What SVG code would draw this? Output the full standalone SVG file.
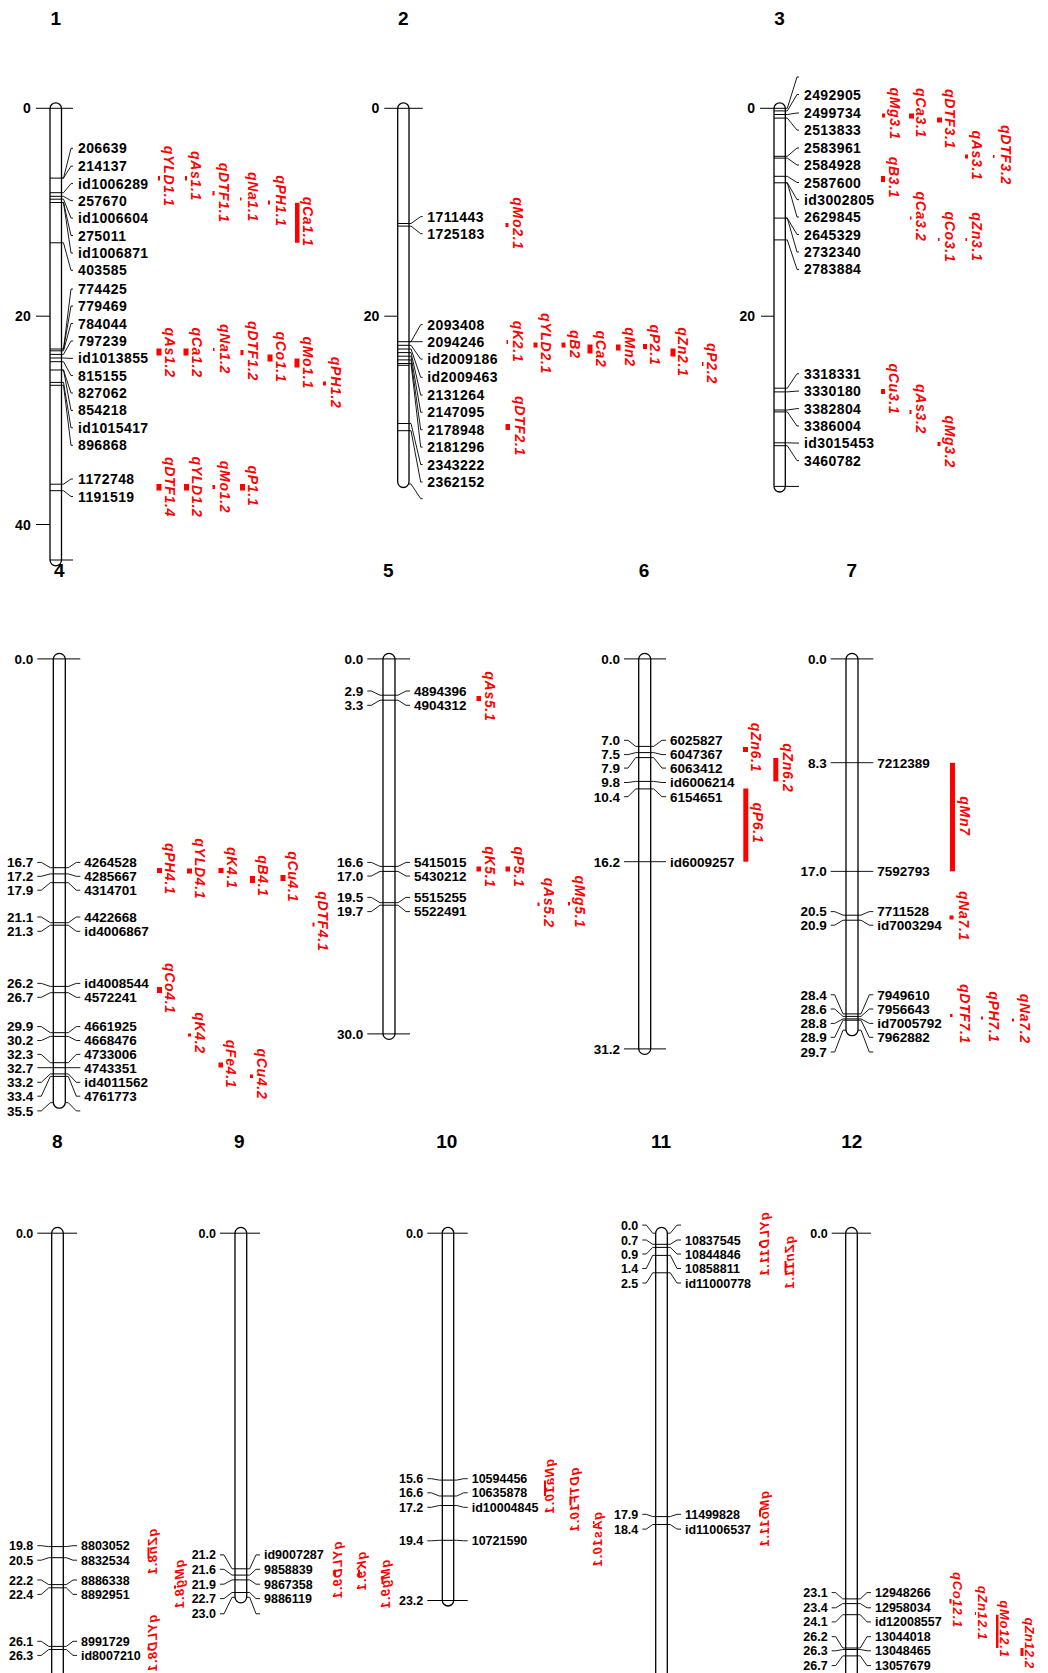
<svg xmlns="http://www.w3.org/2000/svg" width="1048" height="1673" viewBox="0 0 1048 1673">
<style>
.bar{fill:#fff;stroke:#000;stroke-width:1.3}
.tk{fill:none;stroke:#000;stroke-width:1}
.cn{fill:none;stroke:#000;stroke-width:0.9}
text{font-family:"Liberation Sans",Arial,sans-serif;fill:#000}
.t{font-size:19px;font-weight:bold;text-anchor:middle}
.m1{font-size:14px;font-weight:bold;letter-spacing:0.4px}
.a1{font-size:14px;font-weight:bold;text-anchor:end}
.m2{font-size:13.5px;font-weight:bold}
.n2{font-size:13.5px;font-weight:bold;text-anchor:end}
.m3{font-size:12.5px;font-weight:bold}
.n3{font-size:12.5px;font-weight:bold;text-anchor:end}
.q{font-size:14px;font-weight:bold;font-style:italic;fill:#f00;text-anchor:middle;letter-spacing:0.7px}
.q3{font-size:13px;font-weight:bold;font-style:italic;fill:#f00;text-anchor:middle;letter-spacing:0.8px}
.qm{fill:#f00}
</style>
<rect width="1048" height="1673" fill="#fff"/>

<!-- Chromosome 1 -->
<g id="chr1">
<rect class="bar" x="50" y="102.8" width="11.5" height="463" rx="5.75"/>
<path class="tk" d="M50,178.1H61.5M50,192.7H61.5M50,196.3H61.5M50,199.2H61.5M50,202.5H61.5M50,242.8H61.5M50,349H61.5M50,350.8H61.5M50,354.4H61.5M50,358H61.5M50,361.7H61.5M50,370H61.5M50,382.4H61.5M50,385.3H61.5M50,484.2H61.5M50,490.7H61.5M36,108.3H73M36,316.2H50M36,524.5H50M50,560H73"/>
<text class="t" x="55.7" y="24.7">1</text>
<text class="a1" x="30.7" y="113.3">0</text>
<text class="a1" x="30.7" y="321.2">20</text>
<text class="a1" x="30.7" y="529.5">40</text>
<text class="m1" x="78" y="153.3">206639</text>
<text class="m1" x="78" y="171.1">214137</text>
<text class="m1" x="78" y="188.6">id1006289</text>
<text class="m1" x="78" y="205.7">257670</text>
<text class="m1" x="78" y="223.1">id1006604</text>
<text class="m1" x="78" y="240.5">275011</text>
<text class="m1" x="78" y="258">id1006871</text>
<text class="m1" x="78" y="275.4">403585</text>
<text class="m1" x="78" y="294">774425</text>
<text class="m1" x="78" y="311">779469</text>
<text class="m1" x="78" y="328.5">784044</text>
<text class="m1" x="78" y="346">797239</text>
<text class="m1" x="78" y="363.4">id1013855</text>
<text class="m1" x="78" y="380.5">815155</text>
<text class="m1" x="78" y="398">827062</text>
<text class="m1" x="78" y="415.4">854218</text>
<text class="m1" x="78" y="432.8">id1015417</text>
<text class="m1" x="78" y="450.3">896868</text>
<text class="m1" x="78" y="484">1172748</text>
<text class="m1" x="78" y="501.5">1191519</text>
</g>

<!-- Chromosome 2 -->
<g id="chr2">
<rect class="bar" x="397.7" y="102.8" width="11.3" height="384.7" rx="5.65"/>
<path class="tk" d="M397.7,223.5H409M397.7,226.1H409M397.7,341.7H409M397.7,345.3H409M397.7,349H409M397.7,352.6H409M397.7,356.2H409M397.7,359.9H409M397.7,363.5H409M397.7,365.3H409M397.7,423.5H409M397.7,430.7H409M384.3,108.3H422.7M384.3,316.2H397.7"/>
<text class="t" x="403.3" y="24.7">2</text>
<text class="a1" x="379.3" y="113.3">0</text>
<text class="a1" x="379.3" y="321.2">20</text>
<text class="m1" x="427.3" y="221.6">1711443</text>
<text class="m1" x="427.3" y="238.7">1725183</text>
<text class="m1" x="427.3" y="329.6">2093408</text>
<text class="m1" x="427.3" y="346.7">2094246</text>
<text class="m1" x="427.3" y="364.1">id2009186</text>
<text class="m1" x="427.3" y="382.3">id2009463</text>
<text class="m1" x="427.3" y="400.1">2131264</text>
<text class="m1" x="427.3" y="417.2">2147095</text>
<text class="m1" x="427.3" y="434.7">2178948</text>
<text class="m1" x="427.3" y="452.1">2181296</text>
<text class="m1" x="427.3" y="469.5">2343222</text>
<text class="m1" x="427.3" y="487">2362152</text>
</g>

<!-- Chromosome 3 -->
<g id="chr3">
<rect class="bar" x="774" y="102.8" width="11.3" height="389.2" rx="5.65"/>
<path class="tk" d="M774,110.9H785.3M774,114.5H785.3M774,118.1H785.3M774,156.3H785.3M774,158.1H785.3M774,176.3H785.3M774,182.8H785.3M774,218.1H785.3M774,239.9H785.3M774,388.2H785.3M774,391.9H785.3M774,410H785.3M774,411.9H785.3M774,442.8H785.3M774,445.7H785.3M760,108.3H785.3M761,316.2H774M774,486.4H799"/>
<text class="t" x="779.6" y="24.7">3</text>
<text class="a1" x="755" y="113.3">0</text>
<text class="a1" x="755" y="321.2">20</text>
<text class="m1" x="804" y="99.5">2492905</text>
<text class="m1" x="804" y="118">2499734</text>
<text class="m1" x="804" y="135.1">2513833</text>
<text class="m1" x="804" y="153">2583961</text>
<text class="m1" x="804" y="170">2584928</text>
<text class="m1" x="804" y="187.5">2587600</text>
<text class="m1" x="804" y="204.6">id3002805</text>
<text class="m1" x="804" y="222">2629845</text>
<text class="m1" x="804" y="239.5">2645329</text>
<text class="m1" x="804" y="257">2732340</text>
<text class="m1" x="804" y="274.4">2783884</text>
<text class="m1" x="804" y="378.7">3318331</text>
<text class="m1" x="804" y="396.1">3330180</text>
<text class="m1" x="804" y="413.6">3382804</text>
<text class="m1" x="804" y="431">3386004</text>
<text class="m1" x="804" y="448.1">id3015453</text>
<text class="m1" x="804" y="465.6">3460782</text>
</g>

<!-- Chromosome 4 -->
<g id="chr4">
<rect class="bar" x="53.3" y="653.4" width="12" height="454.8" rx="6"/>
<path class="tk" d="M37.3,658.9H80.3M53.3,867.7H65.3M53.3,873.9H65.3M53.3,882.7H65.3M53.3,922.7H65.3M53.3,925.2H65.3M53.3,986.4H65.3M53.3,992.7H65.3M53.3,1032.7H65.3M53.3,1036.4H65.3M53.3,1062.7H65.3M53.3,1067.7H65.3M53.3,1073.9H65.3M53.3,1076.4H65.3"/>
<text class="t" x="59.3" y="577">4</text>
<text class="n2" x="33.3" y="663.7">0.0</text>
<text class="n2" x="33.3" y="867.2">16.7</text>
<text class="n2" x="33.3" y="881.1">17.2</text>
<text class="n2" x="33.3" y="895">17.9</text>
<text class="n2" x="33.3" y="921.8">21.1</text>
<text class="n2" x="33.3" y="936.1">21.3</text>
<text class="n2" x="33.3" y="988.2">26.2</text>
<text class="n2" x="33.3" y="1002.1">26.7</text>
<text class="n2" x="33.3" y="1031.4">29.9</text>
<text class="n2" x="33.3" y="1045.3">30.2</text>
<text class="n2" x="33.3" y="1059.2">32.3</text>
<text class="n2" x="33.3" y="1072.5">32.7</text>
<text class="n2" x="33.3" y="1087.1">33.2</text>
<text class="n2" x="33.3" y="1101">33.4</text>
<text class="n2" x="33.3" y="1115.7">35.5</text>
<text class="m2" x="84.3" y="867.2">4264528</text>
<text class="m2" x="84.3" y="881.1">4285667</text>
<text class="m2" x="84.3" y="895">4314701</text>
<text class="m2" x="84.3" y="921.8">4422668</text>
<text class="m2" x="84.3" y="936.1">id4006867</text>
<text class="m2" x="84.3" y="988.2">id4008544</text>
<text class="m2" x="84.3" y="1002.1">4572241</text>
<text class="m2" x="84.3" y="1031.4">4661925</text>
<text class="m2" x="84.3" y="1045.3">4668476</text>
<text class="m2" x="84.3" y="1059.2">4733006</text>
<text class="m2" x="84.3" y="1072.5">4743351</text>
<text class="m2" x="84.3" y="1087.1">id4011562</text>
<text class="m2" x="84.3" y="1101">4761773</text>
</g>

<!-- Chromosome 5 -->
<g id="chr5">
<rect class="bar" x="383" y="653.4" width="12" height="386" rx="6"/>
<path class="tk" d="M367.3,658.9H410M367.3,1033.9H410M383,695.2H395M383,700.2H395M383,866.4H395M383,871.4H395M383,902.7H395M383,905.2H395"/>
<text class="t" x="388.3" y="577">5</text>
<text class="n2" x="363.3" y="663.7">0.0</text>
<text class="n2" x="363.3" y="695.8">2.9</text>
<text class="n2" x="363.3" y="710.1">3.3</text>
<text class="n2" x="363.3" y="867.2">16.6</text>
<text class="n2" x="363.3" y="880.8">17.0</text>
<text class="n2" x="363.3" y="902.2">19.5</text>
<text class="n2" x="363.3" y="916.4">19.7</text>
<text class="n2" x="363.3" y="1038.7">30.0</text>
<text class="m2" x="414" y="695.8">4894396</text>
<text class="m2" x="414" y="710.1">4904312</text>
<text class="m2" x="414" y="867.2">5415015</text>
<text class="m2" x="414" y="880.8">5430212</text>
<text class="m2" x="414" y="902.2">5515255</text>
<text class="m2" x="414" y="916.4">5522491</text>
</g>

<!-- Chromosome 6 -->
<g id="chr6">
<rect class="bar" x="638.7" y="653.4" width="12" height="401" rx="6"/>
<path class="tk" d="M624,658.9H666M624,1048.9H666M638.7,746.4H650.7M638.7,752.6H650.7M638.7,757.6H650.7M638.7,781.4H650.7M638.7,788.9H650.7"/>
<text class="t" x="644" y="577">6</text>
<text class="n2" x="620" y="663.7">0.0</text>
<text class="n2" x="620" y="745.1">7.0</text>
<text class="n2" x="620" y="759.4">7.5</text>
<text class="n2" x="620" y="772.9">7.9</text>
<text class="n2" x="620" y="787.3">9.8</text>
<text class="n2" x="620" y="801.5">10.4</text>
<text class="n2" x="620" y="866.5">16.2</text>
<text class="n2" x="620" y="1053.7">31.2</text>
<text class="m2" x="670" y="745.1">6025827</text>
<text class="m2" x="670" y="759.4">6047367</text>
<text class="m2" x="670" y="772.9">6063412</text>
<text class="m2" x="670" y="787.3">id6006214</text>
<text class="m2" x="670" y="801.5">6154651</text>
<text class="m2" x="670" y="866.5">id6009257</text>
</g>

<!-- Chromosome 7 -->
<g id="chr7">
<rect class="bar" x="846" y="653.4" width="12" height="382.3" rx="6"/>
<path class="tk" d="M830.7,658.9H873.3M846,915.2H858M846,920.2H858M846,1013.9H858M846,1016.4H858M846,1018.9H858M846,1020.2H858"/>
<text class="t" x="851.7" y="577">7</text>
<text class="n2" x="826.7" y="663.7">0.0</text>
<text class="n2" x="826.7" y="767.5">8.3</text>
<text class="n2" x="826.7" y="876.2">17.0</text>
<text class="n2" x="826.7" y="916.4">20.5</text>
<text class="n2" x="826.7" y="930">20.9</text>
<text class="n2" x="826.7" y="999.6">28.4</text>
<text class="n2" x="826.7" y="1013.8">28.6</text>
<text class="n2" x="826.7" y="1028.2">28.8</text>
<text class="n2" x="826.7" y="1042.1">28.9</text>
<text class="n2" x="826.7" y="1056.8">29.7</text>
<text class="m2" x="877.3" y="767.5">7212389</text>
<text class="m2" x="877.3" y="876.2">7592793</text>
<text class="m2" x="877.3" y="916.4">7711528</text>
<text class="m2" x="877.3" y="930">id7003294</text>
<text class="m2" x="877.3" y="999.6">7949610</text>
<text class="m2" x="877.3" y="1013.8">7956643</text>
<text class="m2" x="877.3" y="1028.2">id7005792</text>
<text class="m2" x="877.3" y="1042.1">7962882</text>
</g>

<!-- Chromosome 8 -->
<g id="chr8">
<rect class="bar" x="51.7" y="1227.4" width="11.6" height="470" rx="5.8"/>
<path class="tk" d="M37.3,1233.2H77M51.7,1546.6H63.3M51.7,1557.7H63.3M51.7,1584.6H63.3M51.7,1587.8H63.3M51.7,1646.4H63.3M51.7,1649.5H63.3"/>
<text class="t" x="57.3" y="1147.5">8</text>
<text class="n3" x="33.3" y="1237.7">0.0</text>
<text class="n3" x="33.3" y="1550.2">19.8</text>
<text class="n3" x="33.3" y="1564.7">20.5</text>
<text class="n3" x="33.3" y="1584.5">22.2</text>
<text class="n3" x="33.3" y="1598.9">22.4</text>
<text class="n3" x="33.3" y="1645.8">26.1</text>
<text class="n3" x="33.3" y="1659.9">26.3</text>
<text class="m3" x="81" y="1550.2">8803052</text>
<text class="m3" x="81" y="1564.7">8832534</text>
<text class="m3" x="81" y="1584.5">8886338</text>
<text class="m3" x="81" y="1598.9">8892951</text>
<text class="m3" x="81" y="1645.8">8991729</text>
<text class="m3" x="81" y="1659.9">id8007210</text>
</g>

<!-- Chromosome 9 -->
<g id="chr9">
<rect class="bar" x="235" y="1227.4" width="11.7" height="375.4" rx="5.85"/>
<path class="tk" d="M220,1233.2H260M235,1568.8H246.7M235,1575.1H246.7M235,1579.9H246.7M235,1592.5H246.7"/>
<text class="t" x="239.3" y="1147.5">9</text>
<text class="n3" x="216" y="1237.7">0.0</text>
<text class="n3" x="216" y="1559.4">21.2</text>
<text class="n3" x="216" y="1573.8">21.6</text>
<text class="n3" x="216" y="1588.7">21.9</text>
<text class="n3" x="216" y="1603.1">22.7</text>
<text class="n3" x="216" y="1618.3">23.0</text>
<text class="m3" x="264" y="1559.4">id9007287</text>
<text class="m3" x="264" y="1573.8">9858839</text>
<text class="m3" x="264" y="1588.7">9867358</text>
<text class="m3" x="264" y="1603.1">9886119</text>
</g>

<!-- Chromosome 10 -->
<g id="chr10">
<rect class="bar" x="442.3" y="1227.4" width="11.4" height="378.6" rx="5.7"/>
<path class="tk" d="M427.3,1233.2H467.7M427.3,1600.5H467.7M442.3,1480.1H453.7M442.3,1496H453.7M442.3,1505.5H453.7M442.3,1540.3H453.7"/>
<text class="t" x="446.7" y="1147.5">10</text>
<text class="n3" x="423.3" y="1237.7">0.0</text>
<text class="n3" x="423.3" y="1483.2">15.6</text>
<text class="n3" x="423.3" y="1497.3">16.6</text>
<text class="n3" x="423.3" y="1511.8">17.2</text>
<text class="n3" x="423.3" y="1545.3">19.4</text>
<text class="n3" x="423.3" y="1605">23.2</text>
<text class="m3" x="471.7" y="1483.2">10594456</text>
<text class="m3" x="471.7" y="1497.3">10635878</text>
<text class="m3" x="471.7" y="1511.8">id10004845</text>
<text class="m3" x="471.7" y="1545.3">10721590</text>
</g>

<!-- Chromosome 11 -->
<g id="chr11">
<rect class="bar" x="655.7" y="1227.4" width="11.6" height="470" rx="5.8"/>
<path class="tk" d="M655.7,1244.3H667.3M655.7,1247.4H667.3M655.7,1255.4H667.3M655.7,1272.8H667.3M655.7,1516.6H667.3M655.7,1524.5H667.3"/>
<text class="t" x="661" y="1147.5">11</text>
<text class="n3" x="638.3" y="1229.6">0.0</text>
<text class="n3" x="638.3" y="1244.5">0.7</text>
<text class="n3" x="638.3" y="1258.5">0.9</text>
<text class="n3" x="638.3" y="1273">1.4</text>
<text class="n3" x="638.3" y="1287.5">2.5</text>
<text class="n3" x="638.3" y="1518.8">17.9</text>
<text class="n3" x="638.3" y="1533.6">18.4</text>
<text class="m3" x="685" y="1244.5">10837545</text>
<text class="m3" x="685" y="1258.5">10844846</text>
<text class="m3" x="685" y="1273">10858811</text>
<text class="m3" x="685" y="1287.5">id11000778</text>
<text class="m3" x="685" y="1518.8">11499828</text>
<text class="m3" x="685" y="1533.6">id11006537</text>
</g>

<!-- Chromosome 12 -->
<g id="chr12">
<rect class="bar" x="845.7" y="1227.4" width="11.6" height="470" rx="5.8"/>
<path class="tk" d="M831.7,1233.2H871M845.7,1598.9H857.3M845.7,1603.6H857.3M845.7,1614.7H857.3M845.7,1648H857.3M845.7,1649.5H857.3M845.7,1655.9H857.3"/>
<text class="t" x="851.7" y="1147.5">12</text>
<text class="n3" x="827.7" y="1237.7">0.0</text>
<text class="n3" x="827.7" y="1597.1">23.1</text>
<text class="n3" x="827.7" y="1612.3">23.4</text>
<text class="n3" x="827.7" y="1626.4">24.1</text>
<text class="n3" x="827.7" y="1641.2">26.2</text>
<text class="n3" x="827.7" y="1655.3">26.3</text>
<text class="n3" x="827.7" y="1670.1">26.7</text>
<text class="m3" x="875" y="1597.1">12948266</text>
<text class="m3" x="875" y="1612.3">12958034</text>
<text class="m3" x="875" y="1626.4">id12008557</text>
<text class="m3" x="875" y="1641.2">13044018</text>
<text class="m3" x="875" y="1655.3">13048465</text>
<text class="m3" x="875" y="1670.1">13057679</text>
</g>

<!-- Connectors: marker leader lines -->
<g id="connectors" class="cn">
<path d="M61.5,178.1H63.5L71,148.3H73M61.5,178.1H63.5L71,166.1H73M61.5,192.7H63.5L71,183.6H73M61.5,196.3H63.5L71,200.7H73M61.5,199.2H63.5L71,218.1H73M61.5,202.5H63.5L71,235.5H73M61.5,202.5H63.5L71,253H73M61.5,242.8H63.5L71,270.4H73M61.5,349H63.5L71,289H73M61.5,349H63.5L71,306H73M61.5,350.8H63.5L71,323.5H73M61.5,354.4H63.5L71,341H73M61.5,358H63.5L71,358.4H73M61.5,361.7H63.5L71,375.5H73M61.5,370H63.5L71,393H73M61.5,370H63.5L71,410.4H73M61.5,382.4H63.5L71,427.8H73M61.5,385.3H63.5L71,445.3H73M61.5,484.2H63.5L71,479H73M61.5,490.7H63.5L71,496.5H73"/>
<path d="M409,223.5H411L420.7,216.6H422.7M409,226.1H411L420.7,233.7H422.7M409,341.7H411L420.7,324.6H422.7M409,341.7H422.7M409,345.3H411L420.7,359.1H422.7M409,349H411L420.7,377.3H422.7M409,352.6H411L420.7,395.1H422.7M409,356.2H411L420.7,412.2H422.7M409,359.9H411L420.7,429.7H422.7M409,363.5H411L420.7,447.1H422.7M409,423.5H411L420.7,464.5H422.7M409,430.7H411L420.7,482H422.7M409,484H411L420.7,498.7H422.7"/>
<path d="M785.3,108.3H787.3L797,77H799M785.3,110.9H787.3L797,94.5H799M785.3,114.5H787.3L797,113H799M785.3,118.1H787.3L797,130.1H799M785.3,156.3H787.3L797,148H799M785.3,158.1H787.3L797,165H799M785.3,176.3H787.3L797,182.5H799M785.3,182.8H787.3L797,199.6H799M785.3,182.8H787.3L797,217H799M785.3,218.1H787.3L797,234.5H799M785.3,218.1H787.3L797,252H799M785.3,239.9H787.3L797,269.4H799M785.3,388.2H787.3L797,373.7H799M785.3,391.9H787.3L797,391.1H799M785.3,410H787.3L797,408.6H799M785.3,411.9H787.3L797,426H799M785.3,442.8H787.3L797,443.1H799M785.3,445.7H787.3L797,460.6H799"/>
<path d="M37.3,862.4H41.3L50.3,867.7H53.3M65.3,867.7H68.3L76.3,862.4H80.3M37.3,876.3H41.3L50.3,873.9H53.3M65.3,873.9H68.3L76.3,876.3H80.3M37.3,890.2H41.3L50.3,882.7H53.3M65.3,882.7H68.3L76.3,890.2H80.3M37.3,917H41.3L50.3,922.7H53.3M65.3,922.7H68.3L76.3,917H80.3M37.3,931.3H41.3L50.3,925.2H53.3M65.3,925.2H68.3L76.3,931.3H80.3M37.3,983.4H41.3L50.3,986.4H53.3M65.3,986.4H68.3L76.3,983.4H80.3M37.3,997.3H41.3L50.3,992.7H53.3M65.3,992.7H68.3L76.3,997.3H80.3M37.3,1026.6H41.3L50.3,1032.7H53.3M65.3,1032.7H68.3L76.3,1026.6H80.3M37.3,1040.5H41.3L50.3,1036.4H53.3M65.3,1036.4H68.3L76.3,1040.5H80.3M37.3,1054.4H41.3L50.3,1062.7H53.3M65.3,1062.7H68.3L76.3,1054.4H80.3M37.3,1067.7H53.3M65.3,1067.7H80.3M37.3,1082.3H41.3L50.3,1073.9H53.3M65.3,1073.9H68.3L76.3,1082.3H80.3M37.3,1096.2H41.3L50.3,1076.4H53.3M65.3,1076.4H68.3L76.3,1096.2H80.3M37.3,1110.9H41.3L50.3,1102.7H53.3M65.3,1102.7H68.3L76.3,1110.9H80.3"/>
<path d="M367.3,691H371.3L380,695.2H383M395,695.2H398L406,691H410M367.3,705.3H371.3L380,700.2H383M395,700.2H398L406,705.3H410M367.3,862.4H371.3L380,866.4H383M395,866.4H398L406,862.4H410M367.3,876H371.3L380,871.4H383M395,871.4H398L406,876H410M367.3,897.4H371.3L380,902.7H383M395,902.7H398L406,897.4H410M367.3,911.6H371.3L380,905.2H383M395,905.2H398L406,911.6H410"/>
<path d="M624,740.3H628L635.7,746.4H638.7M650.7,746.4H653.7L662,740.3H666M624,754.6H628L635.7,752.6H638.7M650.7,752.6H653.7L662,754.6H666M624,768.1H628L635.7,757.6H638.7M650.7,757.6H653.7L662,768.1H666M624,782.5H628L635.7,781.4H638.7M650.7,781.4H653.7L662,782.5H666M624,796.7H628L635.7,788.9H638.7M650.7,788.9H653.7L662,796.7H666M624,861.7H666"/>
<path d="M830.7,762.7H873.3M830.7,871.4H873.3M830.7,911.6H834.7L843,915.2H846M858,915.2H861L869.3,911.6H873.3M830.7,925.2H834.7L843,920.2H846M858,920.2H861L869.3,925.2H873.3M830.7,994.8H834.7L843,1013.9H846M858,1013.9H861L869.3,994.8H873.3M830.7,1009H834.7L843,1016.4H846M858,1016.4H861L869.3,1009H873.3M830.7,1023.4H834.7L843,1018.9H846M858,1018.9H861L869.3,1023.4H873.3M830.7,1037.3H834.7L843,1020.2H846M858,1020.2H861L869.3,1037.3H873.3M830.7,1052H834.7L843,1030.2H846M858,1030.2H861L869.3,1052H873.3"/>
<path d="M37.3,1545.7H41.3L48.7,1546.6H51.7M63.3,1546.6H66.3L73,1545.7H77M37.3,1560.2H41.3L48.7,1557.7H51.7M63.3,1557.7H66.3L73,1560.2H77M37.3,1580H41.3L48.7,1584.6H51.7M63.3,1584.6H66.3L73,1580H77M37.3,1594.4H41.3L48.7,1587.8H51.7M63.3,1587.8H66.3L73,1594.4H77M37.3,1641.3H41.3L48.7,1646.4H51.7M63.3,1646.4H66.3L73,1641.3H77M37.3,1655.4H41.3L48.7,1649.5H51.7M63.3,1649.5H66.3L73,1655.4H77"/>
<path d="M220,1554.9H224L232,1568.8H235M246.7,1568.8H249.7L256,1554.9H260M220,1569.3H224L232,1575.1H235M246.7,1575.1H249.7L256,1569.3H260M220,1584.2H224L232,1579.9H235M246.7,1579.9H249.7L256,1584.2H260M220,1598.6H224L232,1592.5H235M246.7,1592.5H249.7L256,1598.6H260M220,1613.8H224L232,1597.3H235M246.7,1597.3H249.7L256,1613.8H260"/>
<path d="M427.3,1478.7H431.3L439.3,1480.1H442.3M453.7,1480.1H456.7L463.7,1478.7H467.7M427.3,1492.8H431.3L439.3,1496H442.3M453.7,1496H456.7L463.7,1492.8H467.7M427.3,1507.3H431.3L439.3,1505.5H442.3M453.7,1505.5H456.7L463.7,1507.3H467.7M427.3,1540.8H431.3L439.3,1540.3H442.3M453.7,1540.3H456.7L463.7,1540.8H467.7"/>
<path d="M642.3,1225.1H646.3L652.7,1233.2H655.7M667.3,1233.2H670.3L677,1225.1H681M642.3,1240H646.3L652.7,1244.3H655.7M667.3,1244.3H670.3L677,1240H681M642.3,1254H646.3L652.7,1247.4H655.7M667.3,1247.4H670.3L677,1254H681M642.3,1268.5H646.3L652.7,1255.4H655.7M667.3,1255.4H670.3L677,1268.5H681M642.3,1283H646.3L652.7,1272.8H655.7M667.3,1272.8H670.3L677,1283H681M642.3,1514.3H646.3L652.7,1516.6H655.7M667.3,1516.6H670.3L677,1514.3H681M642.3,1529.1H646.3L652.7,1524.5H655.7M667.3,1524.5H670.3L677,1529.1H681"/>
<path d="M831.7,1592.6H835.7L842.7,1598.9H845.7M857.3,1598.9H860.3L867,1592.6H871M831.7,1607.8H835.7L842.7,1603.6H845.7M857.3,1603.6H860.3L867,1607.8H871M831.7,1621.9H835.7L842.7,1614.7H845.7M857.3,1614.7H860.3L867,1621.9H871M831.7,1636.7H835.7L842.7,1648H845.7M857.3,1648H860.3L867,1636.7H871M831.7,1650.8H835.7L842.7,1649.5H845.7M857.3,1649.5H860.3L867,1650.8H871M831.7,1665.6H835.7L842.7,1655.9H845.7M857.3,1655.9H860.3L867,1665.6H871"/>
</g>

<!-- QTLs -->
<g id="qtl-chr1">
<g id="qYLD1.1"><rect class="qm" x="158" y="176" width="2" height="4.5"/><text class="q" transform="translate(163.5,176.3) rotate(90)">qYLD1.1</text></g>
<g id="qAs1.1"><rect class="qm" x="185" y="176" width="2" height="4.5"/><text class="q" transform="translate(191,176) rotate(90)">qAs1.1</text></g>
<g id="qDTF1.1"><rect class="qm" x="212.5" y="191" width="2" height="4.5"/><text class="q" transform="translate(219.3,192.7) rotate(90)">qDTF1.1</text></g>
<g id="qNa1.1"><rect class="qm" x="240" y="197.5" width="1.5" height="3"/><text class="q" transform="translate(247.8,197) rotate(90)">qNa1.1</text></g>
<g id="qPH1.1"><rect class="qm" x="268" y="200.5" width="2" height="4"/><text class="q" transform="translate(275.5,201) rotate(90)">qPH1.1</text></g>
<g id="qCa1.1"><rect class="qm" x="295" y="202.8" width="4.5" height="40"/><text class="q" transform="translate(303,221.7) rotate(90)">qCa1.1</text></g>
<g id="qAs1.2"><rect class="qm" x="156.5" y="348.5" width="5" height="7"/><text class="q" transform="translate(164.5,352.6) rotate(90)">qAs1.2</text></g>
<g id="qCa1.2"><rect class="qm" x="183.5" y="348.5" width="5" height="7"/><text class="q" transform="translate(192,352.6) rotate(90)">qCa1.2</text></g>
<g id="qNa1.2"><rect class="qm" x="213" y="348" width="1.5" height="3"/><text class="q" transform="translate(220,349) rotate(90)">qNa1.2</text></g>
<g id="qDTF1.2"><rect class="qm" x="240.5" y="350" width="3" height="5"/><text class="q" transform="translate(248,351) rotate(90)">qDTF1.2</text></g>
<g id="qCo1.1"><rect class="qm" x="267.5" y="354.5" width="5" height="7"/><text class="q" transform="translate(275.5,357) rotate(90)">qCo1.1</text></g>
<g id="qMo1.1"><rect class="qm" x="294.5" y="358.5" width="5" height="9"/><text class="q" transform="translate(303,362.7) rotate(90)">qMo1.1</text></g>
<g id="qPH1.2"><rect class="qm" x="323" y="381.5" width="3" height="4"/><text class="q" transform="translate(330.5,382.7) rotate(90)">qPH1.2</text></g>
<g id="qDTF1.4"><rect class="qm" x="156.5" y="484" width="5" height="6.5"/><text class="q" transform="translate(164.5,487) rotate(90)">qDTF1.4</text></g>
<g id="qYLD1.2"><rect class="qm" x="184" y="484" width="5" height="6.5"/><text class="q" transform="translate(192,487) rotate(90)">qYLD1.2</text></g>
<g id="qMo1.2"><rect class="qm" x="212.5" y="485" width="2.5" height="4"/><text class="q" transform="translate(220,487) rotate(90)">qMo1.2</text></g>
<g id="qP1.1"><rect class="qm" x="240" y="484" width="5" height="6.5"/><text class="q" transform="translate(248,486) rotate(90)">qP1.1</text></g>
</g>
<g id="qtl-chr2">
<g id="qMo2.1"><rect class="qm" x="505.5" y="223" width="3" height="4"/><text class="q" transform="translate(513,223.5) rotate(90)">qMo2.1</text></g>
<g id="qK2.1"><rect class="qm" x="506.5" y="340" width="1.5" height="4"/><text class="q" transform="translate(513,341.6) rotate(90)">qK2.1</text></g>
<g id="qYLD2.1"><rect class="qm" x="533.5" y="342.5" width="4" height="5"/><text class="q" transform="translate(541,343.5) rotate(90)">qYLD2.1</text></g>
<g id="qB2"><rect class="qm" x="561.5" y="342.5" width="4" height="5"/><text class="q" transform="translate(570,344.4) rotate(90)">qB2</text></g>
<g id="qCa2"><rect class="qm" x="587.5" y="344.5" width="5" height="9"/><text class="q" transform="translate(596,349) rotate(90)">qCa2</text></g>
<g id="qMn2"><rect class="qm" x="616" y="344.5" width="4.5" height="6"/><text class="q" transform="translate(625,347) rotate(90)">qMn2</text></g>
<g id="qP2.1"><rect class="qm" x="643" y="344" width="4" height="5"/><text class="q" transform="translate(650,345) rotate(90)">qP2.1</text></g>
<g id="qZn2.1"><rect class="qm" x="670.5" y="348.5" width="5" height="8"/><text class="q" transform="translate(678,352) rotate(90)">qZn2.1</text></g>
<g id="qP2.2"><rect class="qm" x="702" y="362" width="1.5" height="4"/><text class="q" transform="translate(706.5,363.5) rotate(90)">qP2.2</text></g>
<g id="qDTF2.1"><rect class="qm" x="505.5" y="424" width="4.5" height="6"/><text class="q" transform="translate(515,426) rotate(90)">qDTF2.1</text></g>
</g>
<g id="qtl-chr3">
<g id="qMg3.1"><rect class="qm" x="882" y="113.5" width="3" height="4"/><text class="q" transform="translate(889.5,113.6) rotate(90)">qMg3.1</text></g>
<g id="qCa3.1"><rect class="qm" x="909" y="113.5" width="5" height="5"/><text class="q" transform="translate(916,113) rotate(90)">qCa3.1</text></g>
<g id="qDTF3.1"><rect class="qm" x="937" y="117.5" width="5" height="5"/><text class="q" transform="translate(944.5,119) rotate(90)">qDTF3.1</text></g>
<g id="qAs3.1"><rect class="qm" x="965" y="154.5" width="3" height="4"/><text class="q" transform="translate(972,155.5) rotate(90)">qAs3.1</text></g>
<g id="qDTF3.2"><rect class="qm" x="993" y="155" width="1.5" height="3"/><text class="q" transform="translate(1000.5,155) rotate(90)">qDTF3.2</text></g>
<g id="qB3.1"><rect class="qm" x="881" y="176" width="4" height="6"/><text class="q" transform="translate(888.5,177.5) rotate(90)">qB3.1</text></g>
<g id="qCa3.2"><rect class="qm" x="910" y="216.5" width="1.5" height="3"/><text class="q" transform="translate(916,216.5) rotate(90)">qCa3.2</text></g>
<g id="qCo3.1"><rect class="qm" x="938" y="238" width="1.5" height="3"/><text class="q" transform="translate(944.5,237) rotate(90)">qCo3.1</text></g>
<g id="qZn3.1"><rect class="qm" x="965.5" y="238" width="1.5" height="3"/><text class="q" transform="translate(972,237) rotate(90)">qZn3.1</text></g>
<g id="qCu3.1"><rect class="qm" x="881" y="389" width="4" height="5"/><text class="q" transform="translate(888.5,389) rotate(90)">qCu3.1</text></g>
<g id="qAs3.2"><rect class="qm" x="909.5" y="410" width="2" height="4"/><text class="q" transform="translate(916,409) rotate(90)">qAs3.2</text></g>
<g id="qMg3.2"><rect class="qm" x="937.5" y="442" width="3" height="4"/><text class="q" transform="translate(944.5,441.7) rotate(90)">qMg3.2</text></g>
</g>
<g id="qtl-chr4">
<g id="qPH4.1"><rect class="qm" x="157" y="868" width="5" height="5"/><text class="q" transform="translate(164.7,868.8) rotate(90)">qPH4.1</text></g>
<g id="qYLD4.1"><rect class="qm" x="187" y="868.5" width="5" height="5"/><text class="q" transform="translate(194.7,868.8) rotate(90)">qYLD4.1</text></g>
<g id="qK4.1"><rect class="qm" x="218.5" y="868" width="5" height="5"/><text class="q" transform="translate(227,867.8) rotate(90)">qK4.1</text></g>
<g id="qB4.1"><rect class="qm" x="250" y="876" width="5" height="7"/><text class="q" transform="translate(258,876) rotate(90)">qB4.1</text></g>
<g id="qCu4.1"><rect class="qm" x="280.5" y="875" width="5" height="6"/><text class="q" transform="translate(288,876.7) rotate(90)">qCu4.1</text></g>
<g id="qDTF4.1"><rect class="qm" x="312.5" y="922.5" width="2" height="4"/><text class="q" transform="translate(318,921.3) rotate(90)">qDTF4.1</text></g>
<g id="qCo4.1"><rect class="qm" x="157" y="987" width="5" height="6"/><text class="q" transform="translate(164.7,988.4) rotate(90)">qCo4.1</text></g>
<g id="qK4.2"><rect class="qm" x="188" y="1033.5" width="3" height="3"/><text class="q" transform="translate(194.7,1033) rotate(90)">qK4.2</text></g>
<g id="qFe4.1"><rect class="qm" x="218.5" y="1062.5" width="4.5" height="5"/><text class="q" transform="translate(226,1064) rotate(90)">qFe4.1</text></g>
<g id="qCu4.2"><rect class="qm" x="250" y="1074.5" width="3" height="3.5"/><text class="q" transform="translate(256.5,1074) rotate(90)">qCu4.2</text></g>
</g>
<g id="qtl-chr5">
<g id="qAs5.1"><rect class="qm" x="476.5" y="696" width="4.5" height="5"/><text class="q" transform="translate(484.7,696.4) rotate(90)">qAs5.1</text></g>
<g id="qK5.1"><rect class="qm" x="476.5" y="866.5" width="4.5" height="5"/><text class="q" transform="translate(484.7,867) rotate(90)">qK5.1</text></g>
<g id="qP5.1"><rect class="qm" x="505.5" y="866.5" width="4.5" height="5"/><text class="q" transform="translate(513.7,867) rotate(90)">qP5.1</text></g>
<g id="qAs5.2"><rect class="qm" x="537.5" y="902.5" width="2" height="3.5"/><text class="q" transform="translate(544,902.7) rotate(90)">qAs5.2</text></g>
<g id="qMg5.1"><rect class="qm" x="568" y="902" width="2" height="3.5"/><text class="q" transform="translate(574.7,901.7) rotate(90)">qMg5.1</text></g>
</g>
<g id="qtl-chr6">
<g id="qZn6.1"><rect class="qm" x="743" y="747" width="5" height="5"/><text class="q" transform="translate(750.7,747.5) rotate(90)">qZn6.1</text></g>
<g id="qZn6.2"><rect class="qm" x="773.3" y="758" width="5" height="23.4"/><text class="q" transform="translate(783,767.8) rotate(90)">qZn6.2</text></g>
<g id="qP6.1"><rect class="qm" x="743.3" y="788.5" width="5" height="73.2"/><text class="q" transform="translate(753,823) rotate(90)">qP6.1</text></g>
</g>
<g id="qtl-chr7">
<g id="qMn7"><rect class="qm" x="950" y="762.8" width="5" height="108.5"/><text class="q" transform="translate(959.7,816) rotate(90)">qMn7</text></g>
<g id="qNa7.1"><rect class="qm" x="949.5" y="915.5" width="4" height="4"/><text class="q" transform="translate(959,916) rotate(90)">qNa7.1</text></g>
<g id="qDTF7.1"><rect class="qm" x="950" y="1014" width="2.5" height="3"/><text class="q" transform="translate(959.5,1014) rotate(90)">qDTF7.1</text></g>
<g id="qPH7.1"><rect class="qm" x="981" y="1016.5" width="2" height="3"/><text class="q" transform="translate(989,1017) rotate(90)">qPH7.1</text></g>
<g id="qNa7.2"><rect class="qm" x="1012" y="1018.5" width="2" height="3"/><text class="q" transform="translate(1019.7,1018.7) rotate(90)">qNa7.2</text></g>
</g>
<g id="qtl-chr8">
<g id="qZn8.1"><rect class="qm" x="147.5" y="1547.4" width="2" height="11"/><text class="q3" transform="translate(157.3,1552) rotate(90) scale(1,-1)">qZn8.1</text></g>
<g id="qMg8.1"><rect class="qm" x="174" y="1585.5" width="2" height="3.2"/><text class="q3" transform="translate(184,1584.5) rotate(90) scale(1,-1)">qMg8.1</text></g>
<g id="qYLD8.1"><rect class="qm" x="147.5" y="1647.2" width="2" height="3.2"/><text class="q3" transform="translate(157.3,1643.5) rotate(90) scale(1,-1)">qYLD8.1</text></g>
</g>
<g id="qtl-chr9">
<g id="qYLD9.1"><rect class="qm" x="334" y="1569.6" width="2" height="6.4"/><text class="q3" transform="translate(342.3,1570.4) rotate(90) scale(1,-1)">qYLD9.1</text></g>
<g id="qK9.1"><rect class="qm" x="358" y="1569.6" width="2" height="6.4"/><text class="q3" transform="translate(365.6,1571.5) rotate(90) scale(1,-1)">qK9.1</text></g>
<g id="qMg9.1"><rect class="qm" x="381.5" y="1576" width="2" height="8"/><text class="q3" transform="translate(390,1584.5) rotate(90) scale(1,-1)">qMg9.1</text></g>
</g>
<g id="qtl-chr10">
<g id="qNa10.1"><rect class="qm" x="544" y="1480.5" width="2" height="15.5"/><text class="q3" transform="translate(554,1486.8) rotate(90) scale(1,-1)">qNa10.1</text></g>
<g id="qDTF10.1"><rect class="qm" x="569.5" y="1496.3" width="2" height="9.2"/><text class="q3" transform="translate(579,1500) rotate(90) scale(1,-1)">qDTF10.1</text></g>
<g id="qAs10.1"><rect class="qm" x="593" y="1521" width="1.5" height="3"/><text class="q3" transform="translate(602.3,1539.7) rotate(90) scale(1,-1)">qAs10.1</text></g>
</g>
<g id="qtl-chr11">
<g id="qYLD11.1"><rect class="qm" x="759" y="1242" width="2" height="4"/><text class="q3" transform="translate(769,1244.5) rotate(90) scale(1,-1)">qYLD11.1</text></g>
<g id="qZn11.1"><rect class="qm" x="784.5" y="1261" width="2" height="11.7"/><text class="q3" transform="translate(794,1262.8) rotate(90) scale(1,-1)">qZn11.1</text></g>
<g id="qMo11.1"><rect class="qm" x="759" y="1509.7" width="2" height="7"/><text class="q3" transform="translate(769,1519.3) rotate(90) scale(1,-1)">qMo11.1</text></g>
</g>
<g id="qtl-chr12">
<g id="qCo12.1"><rect class="qm" x="949.5" y="1598.9" width="2" height="4.7"/><text class="q3" transform="translate(952.7,1600) rotate(90)">qCo12.1</text></g>
<g id="qZn12.1"><rect class="qm" x="975" y="1612" width="1" height="3"/><text class="q3" transform="translate(977.7,1613) rotate(90)">qZn12.1</text></g>
<g id="qMo12.1"><rect class="qm" x="996" y="1614.7" width="2.5" height="33.3"/><text class="q3" transform="translate(999.7,1629) rotate(90)">qMo12.1</text></g>
<g id="qZn12.2"><rect class="qm" x="1020.5" y="1648" width="3" height="8"/><text class="q3" style="letter-spacing:0.3px" transform="translate(1024.7,1643) rotate(90)">qZn12.2</text></g>
</g>
</svg>
